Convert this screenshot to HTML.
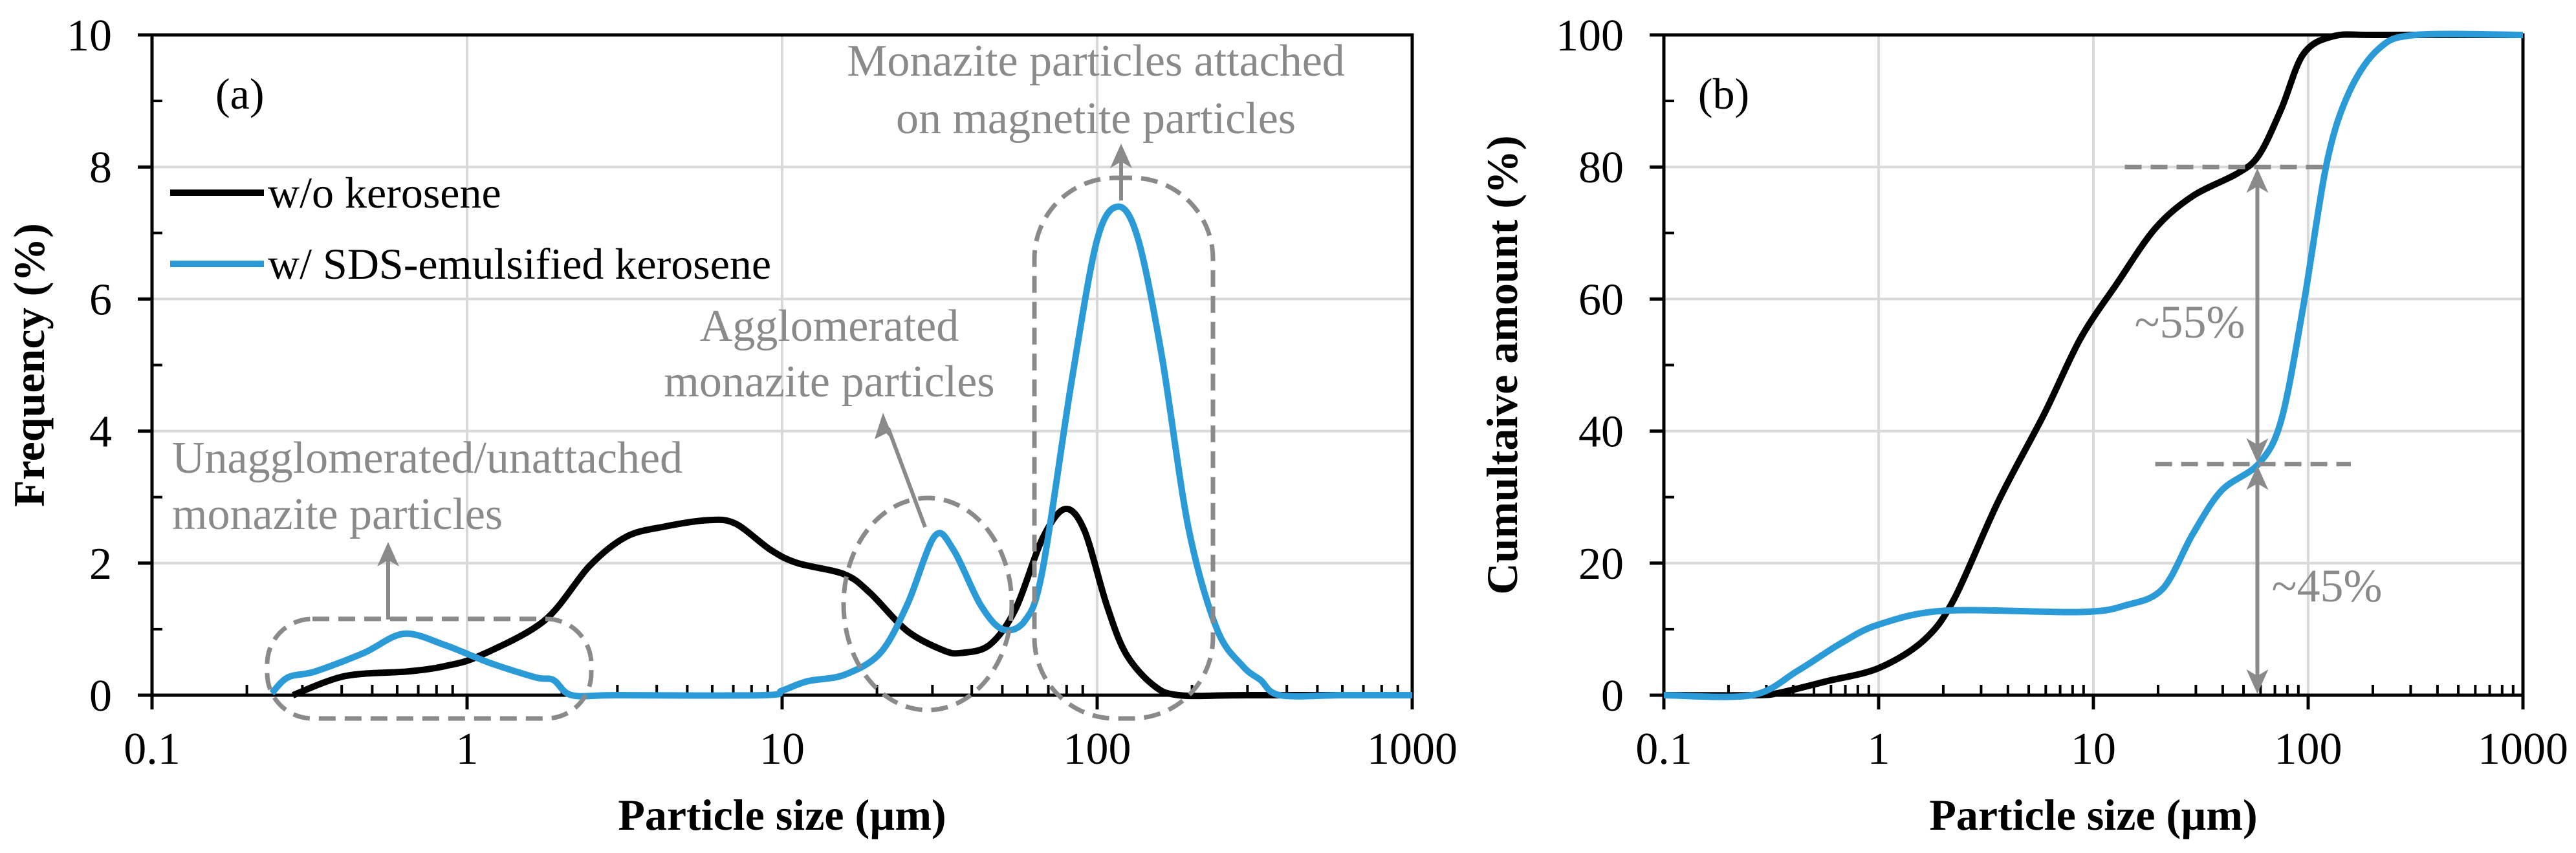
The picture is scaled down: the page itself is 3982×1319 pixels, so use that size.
<!DOCTYPE html>
<html><head><meta charset="utf-8">
<style>
html,body{margin:0;padding:0;background:#fff;}
svg{display:block;font-family:"Liberation Serif","Times New Roman",serif;}
</style></head>
<body>
<svg id="chart" width="3982" height="1319" viewBox="0 0 3982 1319" xmlns="http://www.w3.org/2000/svg">
<g id="panelA"></g>
<g id="panelB"></g>
</svg>
<script>
// ---- Panel (a) data: frequency (%) vs particle size (µm)
const freqBlackX = [0.28,0.41,0.65,0.85,1.1,1.76,2.45,3.2,4.2,5.8,7.1,9.2,11.2,15.8,19,25,32.5,37,45.5,55,67,79,91,107,123,150,182,300,1000];
const freqBlackY = [0,0.29,0.36,0.44,0.6,1.13,1.96,2.4,2.55,2.65,2.6,2.2,2.0,1.83,1.55,0.97,0.68,0.64,0.76,1.3,2.37,2.82,2.5,1.38,0.64,0.16,0,0,0];
const freqBlueX = [0.24,0.27,0.33,0.47,0.63,0.85,1.18,1.65,1.88,2.15,3,8.7,10,12,15.8,20.5,25,30.5,35,42.5,50,59,67,83,100,117,135,160,195,240,290,330,380,600,1000];
const freqBlueY = [0.03,0.27,0.36,0.64,0.93,0.76,0.49,0.27,0.23,0,0,0,0.07,0.21,0.31,0.64,1.38,2.41,2.2,1.38,1.0,1.13,1.88,4.76,6.9,7.4,6.9,5.17,2.53,1.0,0.44,0.23,0,0,0];
const freqYTicks = [0,2,4,6,8,10];
const xTickLabels = ["0.1","1","10","100","1000"];
const xTickValues = [0.1,1,10,100,1000];
// ---- Panel (b) data: cumulative amount (%)
const cumBlackX = [0.1,0.268,0.35,0.57,1.0,1.62,2.24,3.6,5.9,8.7,12.9,19.4,29,46.7,59,75,95,131,213,1000];
const cumBlackY = [0,0,0.4,2.1,4.1,8.3,14.5,29.3,42.6,54,62.4,70.7,75.6,79,81.8,88.8,97.1,99.8,100,100];
const cumBlueX = [0.1,0.257,0.42,0.67,1.0,2.04,8.7,14.1,21,29,39.5,59,75,95,122,155,213,316,1000];
const cumBlueY = [0,0,3.7,7.9,10.7,12.8,12.6,13.6,16.1,24.4,31,35.1,41.7,59,80.6,91.3,97.9,100,100];
const cumYTicks = [0,20,40,60,80,100];

const NS="http://www.w3.org/2000/svg";
function mk(parent,tag,attrs,text){const e=document.createElementNS(NS,tag);for(const k in attrs)e.setAttribute(k,attrs[k]);if(text!==undefined)e.textContent=text;parent.appendChild(e);return e;}
const BLUE="#2b9bd8",GRAY="#8a8a8a",GRID="#d9d9d9";

function makeAxes(P){
  const sx=v=>P.x0+(Math.log10(v)+1)/4*(P.x1-P.x0);
  const sy=v=>P.y1-(v/P.ymax)*(P.y1-P.y0);
  return {sx,sy};
}
function smoothPath(pts){
  let d="M"+pts[0][0].toFixed(1)+","+pts[0][1].toFixed(1);
  for(let i=0;i<pts.length-1;i++){
    const p0=pts[i-1]||pts[i],p1=pts[i],p2=pts[i+1],p3=pts[i+2]||p2;
    const t=0.16;
    let c1y=p1[1]+(p2[1]-p0[1])*t, c2y=p2[1]-(p3[1]-p1[1])*t;
    const c1x=p1[0]+(p2[0]-p0[0])*t, c2x=p2[0]-(p3[0]-p1[0])*t;
    d+=" C"+c1x.toFixed(1)+","+c1y.toFixed(1)+" "+c2x.toFixed(1)+","+c2y.toFixed(1)+" "+p2[0].toFixed(1)+","+p2[1].toFixed(1);
  }
  return d;
}
function drawPanel(g,P,yTicks,series,ytitle,tag){
  const {sx,sy}=makeAxes(P);
  // grid
  yTicks.forEach(v=>{if(v===0||v===P.ymax)return;
    const l=mk(g,"line",{x1:P.x0,x2:P.x1,y1:sy(v),y2:sy(v),stroke:GRID,"stroke-width":4});
    
    });
  xTickValues.forEach(v=>{if(v===0.1||v===1000)return;
    const l=mk(g,"line",{x1:sx(v),x2:sx(v),y1:P.y0,y2:P.y1,stroke:GRID,"stroke-width":4});
    
    });
  // frame
  const fr=mk(g,"rect",{x:P.x0,y:P.y0,width:P.x1-P.x0,height:P.y1-P.y0,fill:"none",stroke:"#000","stroke-width":5});
  
  
  // y ticks
  const step=yTicks[1]-yTicks[0];
  yTicks.forEach((v,i)=>{
    const t=mk(g,"line",{x1:P.x0-22,x2:P.x0,y1:sy(v),y2:sy(v),stroke:"#000","stroke-width":5});
    
    
    const lb=mk(g,"text",{x:P.x0-62,y:sy(v)+24,"font-size":70,"text-anchor":"end",fill:"#000"},String(v));
    
    
    if(i<yTicks.length-1){const m=v+step/2;
      const mt=mk(g,"line",{x1:P.x0,x2:P.x0+16,y1:sy(m),y2:sy(m),stroke:"#000","stroke-width":4});
      
      }
  });
  // x ticks
  xTickValues.forEach((v,i)=>{
    const t=mk(g,"line",{x1:sx(v),x2:sx(v),y1:P.y1,y2:P.y1+22,stroke:"#000","stroke-width":5});
    
    
    const lb=mk(g,"text",{x:sx(v),y:1181,"font-size":70,"text-anchor":"middle",fill:"#000"},xTickLabels[i]);
    
    
    if(i<xTickValues.length-1){for(let k=2;k<=9;k++){
      const mt=mk(g,"line",{x1:sx(v*k),x2:sx(v*k),y1:P.y1-16,y2:P.y1,stroke:"#000","stroke-width":4});
      
      }}
  });
  // series
  series.forEach(s=>{
    const pts=s.x.map((v,i)=>[sx(v),sy(s.y[i])]);
    const p=mk(g,"path",{d:smoothPath(pts),fill:"none",stroke:s.color,"stroke-width":10,"stroke-linejoin":"round","stroke-linecap":"butt"});
    
    
  });
  // titles
  const xt=mk(g,"text",{x:(P.x0+P.x1)/2,y:1283,"font-size":68,"font-weight":"bold","text-anchor":"middle"},"Particle size (µm)");
  
  
  const yc=(P.y0+P.y1)/2;
  const yt=mk(g,"text",{x:P.ytx,y:yc,"font-size":68,"font-weight":"bold","text-anchor":"middle",transform:"rotate(-90 "+P.ytx+" "+yc+")"},ytitle);
  
  
  const pl=mk(g,"text",{x:sx(P.tagX),y:sy(P.tagY)+22,"font-size":68,"text-anchor":"middle"},tag);
  
  
  return {sx,sy};
}
function arrowHead(g,x,y,dir,name){ // dir: -1 up, 1 down
  const h=mk(g,"polygon",{points:x+","+y+" "+(x-17)+","+(y-dir*38)+" "+x+","+(y-dir*28)+" "+(x+17)+","+(y-dir*38),fill:GRAY});
  
  
}
const dash={fill:"none",stroke:GRAY,"stroke-width":7,"stroke-dasharray":"26 14"};

// ---- Panel A
const gA=document.getElementById("panelA");
const PA={x0:235,x1:2183,y0:54,y1:1075,ymax:10,ytx:68,tagX:0.19,tagY:9.1};
drawPanel(gA,PA,freqYTicks,[
  {x:freqBlackX,y:freqBlackY,color:"#000",name:"series-wo-kerosene"},
  {x:freqBlueX,y:freqBlueY,color:BLUE,name:"series-w-sds-kerosene"}],"Frequency (%)","(a)");
// legend
[[298,"#000","w/o kerosene","legend-entry-wo-kerosene"],[408,BLUE,"w/ SDS-emulsified kerosene","legend-entry-w-sds-kerosene"]].forEach(e=>{
  const lg=mk(gA,"g",{});
  
  
  mk(lg,"line",{x1:263,x2:408,y1:e[0],y2:e[0],stroke:e[1],"stroke-width":10});
  mk(lg,"text",{x:414,y:e[0]+23,"font-size":68},e[2]);
});
// annotations
function annot(g,lines,x,y0,dy,anchor,name){
  const t=mk(g,"text",{"font-size":70,fill:GRAY,"text-anchor":anchor});
  
  
  lines.forEach((l,i)=>mk(t,"tspan",{x:x,y:y0+i*dy},l));
}
annot(gA,["Monazite particles attached","on magnetite particles"],1694,117,89,"middle","annotation-attached");
annot(gA,["Agglomerated","monazite particles"],1282,527,86,"middle","annotation-agglomerated");
annot(gA,["Unagglomerated/unattached","monazite particles"],266,731,87,"start","annotation-unagglomerated");
let r=mk(gA,"rect",Object.assign({x:1599,y:275,width:276,height:836,rx:125,ry:125},dash));


r=mk(gA,"ellipse",Object.assign({cx:1434,cy:934,rx:130,ry:164},dash));


r=mk(gA,"rect",Object.assign({x:413,y:957,width:501,height:154,rx:70,ry:70},dash));


let a=mk(gA,"line",{x1:1733,y1:310,x2:1733,y2:245,stroke:GRAY,"stroke-width":6});


arrowHead(gA,1733,222,-1,"arrowhead-attached");
a=mk(gA,"line",{x1:1430,y1:815,x2:1373,y2:662,stroke:GRAY,"stroke-width":6});


const hd=mk(gA,"polygon",{points:"1365,638 1352,679 1370,670 1384,685",fill:GRAY});


a=mk(gA,"line",{x1:600,y1:958,x2:600,y2:860,stroke:GRAY,"stroke-width":6});


arrowHead(gA,600,838,-1,"arrowhead-unagglomerated");

// ---- Panel B
const gB=document.getElementById("panelB");
const PB={x0:2572,x1:3900,y0:54,y1:1075,ymax:100,ytx:2345,tagX:0.19,tagY:91};
const ax=drawPanel(gB,PB,cumYTicks,[
  {x:cumBlackX,y:cumBlackY,color:"#000",name:"cumulative-wo-kerosene"},
  {x:cumBlueX,y:cumBlueY,color:BLUE,name:"cumulative-w-sds-kerosene"}],"Cumultaive amount (%)","(b)");
let d1=mk(gB,"line",Object.assign({x1:ax.sx(14),x2:ax.sx(117),y1:ax.sy(80),y2:ax.sy(80)},dash));


d1=mk(gB,"line",Object.assign({x1:ax.sx(19.4),x2:ax.sx(158),y1:ax.sy(35),y2:ax.sy(35)},dash));


const axX=ax.sx(58);
let l1=mk(gB,"line",{x1:axX,x2:axX,y1:ax.sy(80)+25,y2:ax.sy(35)-25,stroke:GRAY,"stroke-width":6});


arrowHead(gB,axX,ax.sy(80)+2,-1,"arrowhead-55-top");
arrowHead(gB,axX,ax.sy(35)-2,1,"arrowhead-55-bottom");
l1=mk(gB,"line",{x1:axX,x2:axX,y1:ax.sy(35)+25,y2:ax.sy(0)-25,stroke:GRAY,"stroke-width":6});


arrowHead(gB,axX,ax.sy(35)+2,-1,"arrowhead-45-top");
arrowHead(gB,axX,ax.sy(0)-2,1,"arrowhead-45-bottom");
let t1=mk(gB,"text",{x:3385,y:522,"font-size":72,fill:GRAY,"text-anchor":"middle"},"~55%");


t1=mk(gB,"text",{x:3597,y:930,"font-size":72,fill:GRAY,"text-anchor":"middle"},"~45%");


</script>
</body></html>
